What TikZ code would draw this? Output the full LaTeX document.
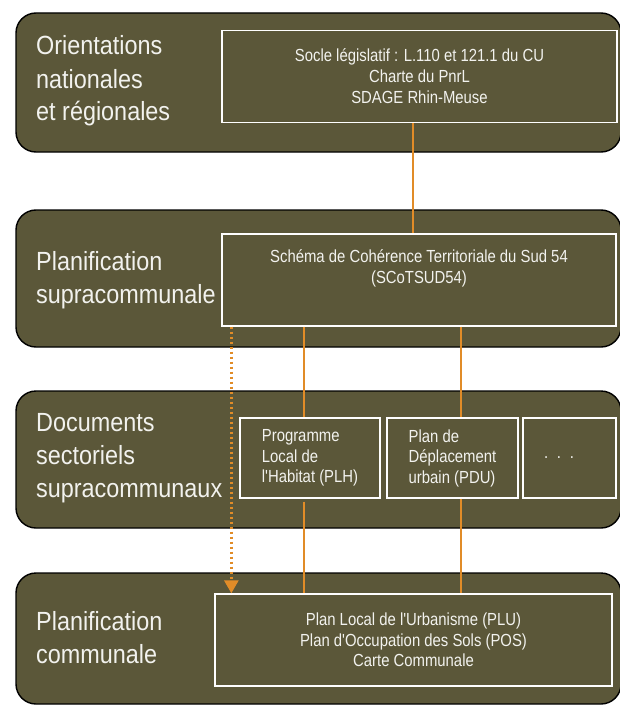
\documentclass[tikz,border=0pt]{standalone}
\usepackage{fontspec}
\setmainfont{Liberation Sans}
\newfontfamily\labfam[FakeStretch=0.89]{Liberation Sans}
\newfontfamily\boxfam[FakeStretch=0.85]{Liberation Sans}
\usetikzlibrary{arrows.meta}
\definecolor{bandolive}{RGB}{91,87,57}
\definecolor{orng}{RGB}{225,140,40}
\definecolor{txtc}{RGB}{242,242,238}
\newcommand\labfont{\labfam\fontsize{26.3}{33}\selectfont}
\newcommand\boxfont{\boxfam\fontsize{17.5}{21}\selectfont}
\begin{document}
\begin{tikzpicture}[x=1pt,y=-1pt,
  band/.style={fill=bandolive,draw=black,line width=1.4pt,rounded corners=20pt},
  wbox/.style={draw=white,line width=1.3pt,inner sep=0pt,text=txtc,font=\boxfont},
  lab/.style={anchor=base west,align=left,text=txtc,font=\labfont,inner sep=0pt},
  link/.style={draw=orng,line width=2pt},
  dotlink/.style={draw=orng,line width=2.6pt,dash pattern=on 2.6pt off 2.4pt,
    -{Triangle[width=14pt,length=13pt]}}
]
\useasboundingbox[fill=white] (0,0) rectangle (619,706);

% bands
\path[band] (16,13) rectangle (621,152);
\path[band] (16,210) rectangle (621,347);
\path[band] (16,391) rectangle (621,528);
\path[band] (16,573) rectangle (621,704);

% row labels (anchor = baseline of last line)
\node[lab] (l1) at (36,121) {Orientations\\nationales\\et régionales};
\node[lab] (l2) at (36,303) {Planification\\supracommunale};
\node[lab] (l3) at (36,497) {Documents\\sectoriels\\supracommunaux};
\node[lab] (l4) at (36,663) {Planification\\communale};

% boxes
\node[wbox,minimum width=395pt,minimum height=92pt,align=center] (box1) at (419.5,76.5)
  {Socle législatif : L.110 et 121.1 du CU\\Charte du PnrL\\SDAGE Rhin-Meuse};
\node[wbox,minimum width=394pt,minimum height=92pt] (box2) at (419,280) {};
\node[anchor=base,align=center,text=txtc,font={\boxfam\fontsize{17.5}{21}\selectfont},inner sep=0pt]
  (box2txt) at (419,283) {Schéma de Cohérence Territoriale du Sud 54\\(SCoTSUD54)};
\node[wbox,minimum width=140pt,minimum height=80pt,align=left,
  font={\boxfam\fontsize{17.5}{20.5}\selectfont}] (plh) at (310,458)
  {Programme\\Local de\\l'Habitat (PLH)};
\node[wbox,minimum width=131pt,minimum height=80pt,align=left,
  font={\boxfam\fontsize{17.5}{20.5}\selectfont}] (pdu) at (452.5,458)
  {Plan de\\Déplacement\\urbain (PDU)};
\node[wbox,minimum width=93pt,minimum height=80pt,text width=51pt,inner xsep=21pt,align=left] (more) at (569.5,458)
  {. . .};
\node[wbox,minimum width=397pt,minimum height=92pt,align=center,
  font={\boxfam\fontsize{17.5}{20.5}\selectfont}] (box4) at (413.5,640)
  {Plan Local de l'Urbanisme (PLU)\\Plan d'Occupation des Sols (POS)\\Carte Communale};

% connectors
\draw[link] ([xshift=-6.5pt]box1.south) -- ([xshift=-6.5pt]box1.south |- box2.north);
\draw[link] ([xshift=-6pt]box2.south -| plh.north) -- ([xshift=-6pt]plh.north);
\draw[link] ([xshift=-6pt,yshift=-3pt]plh.south) -- ([xshift=-6pt]plh.south |- box4.north);
\draw[link] ([xshift=8.5pt]box2.south -| pdu.north) -- ([xshift=8.5pt]pdu.north);
\draw[link] ([xshift=8.5pt]pdu.south) -- ([xshift=8.5pt]pdu.south |- box4.north);
\draw[dotlink] ([xshift=10pt]box2.south west) -- ([xshift=10pt]box2.south west |- box4.north);
\end{tikzpicture}
\end{document}
